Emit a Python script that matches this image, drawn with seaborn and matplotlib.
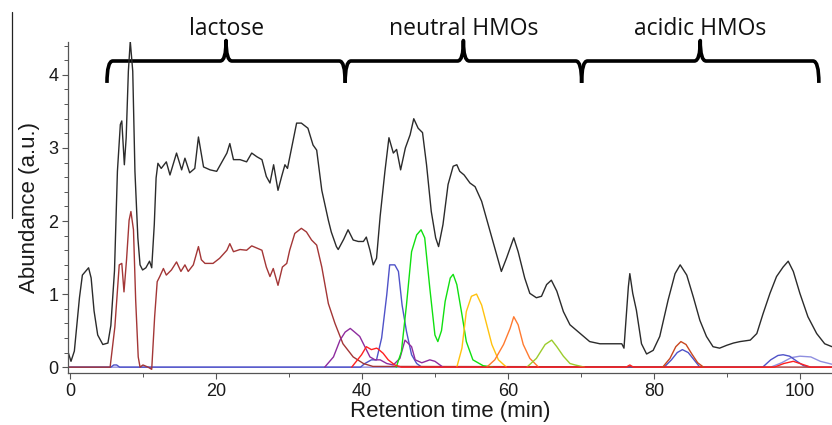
import numpy as np
import pandas as pd
import matplotlib
matplotlib.use("Agg")
import matplotlib.pyplot as plt
import seaborn as sns
from matplotlib.path import Path
from matplotlib.patches import PathPatch
from matplotlib.lines import Line2D
from matplotlib.ticker import MultipleLocator

# ---------------- data ----------------
total_t = [-0.3, 0.14, 0.6, 1.3, 1.7, 2.2, 2.55, 2.9, 3.3, 3.8, 4.5, 5.2, 5.6, 6.1, 6.5, 6.9, 7.1,
           7.45, 7.7, 8.0, 8.26, 8.6, 8.9, 9.3, 9.6, 9.95, 10.4, 10.9, 11.2, 11.55, 11.8, 12.05,
           12.5, 13.2, 13.7, 14.6, 15.3, 15.75, 16.4, 17.1, 17.6, 18.3, 19.2, 20.1, 21.0, 21.5,
           21.9, 22.4, 23.3, 24.2, 24.9, 25.6, 26.3, 26.9, 27.4, 27.9, 28.5, 29.0, 29.45, 29.8,
           30.4, 31.05, 31.7, 32.6, 33.3, 33.8, 34.5, 35.4, 35.8, 36.5, 36.75, 37.5, 38.1, 38.8,
           39.5, 40.2, 40.6, 41.1, 41.55, 42.0, 42.5, 43.15, 43.7, 44.3, 44.75, 45.3, 45.95, 46.6,
           47.1, 47.7, 48.3, 48.85, 49.5, 50.1, 50.5, 51.1, 51.8, 52.5, 53.0, 53.4, 54.0, 54.8,
           55.5, 56.4, 57.3, 58.2, 59.1, 59.8, 60.8, 61.4, 62.3, 63.0, 63.9, 64.6, 65.3, 65.95,
           66.7, 67.6, 68.5, 69.9, 71.2, 72.6, 75.6, 75.9, 76.5, 76.7, 77.1, 77.6, 78.3, 79.0,
           79.9, 80.8, 81.95, 82.9, 83.6, 84.5, 85.4, 86.3, 87.2, 88.1, 89.0, 90.0, 90.9, 91.8,
           93.2, 94.1, 94.95, 95.9, 96.8, 97.7, 98.4, 99.1, 100.0, 101.1, 102.3, 103.4, 104.4]
total_y = [0.22, 0.08, 0.22, 0.95, 1.26, 1.32, 1.36, 1.22, 0.77, 0.44, 0.31, 0.33, 0.57, 1.32, 2.68,
           3.32, 3.37, 2.77, 3.14, 4.05, 4.46, 4.05, 2.68, 1.77, 1.40, 1.33, 1.36, 1.45, 1.36, 1.95,
           2.59, 2.79, 2.72, 2.81, 2.63, 2.93, 2.70, 2.86, 2.66, 2.72, 3.15, 2.74, 2.70, 2.68, 2.84,
           2.93, 3.06, 2.84, 2.84, 2.81, 2.93, 2.88, 2.84, 2.61, 2.52, 2.77, 2.42, 2.61, 2.77, 2.72,
           3.02, 3.34, 3.34, 3.27, 3.04, 2.97, 2.42, 2.01, 1.85, 1.65, 1.61, 1.75, 1.88, 1.74,
           1.72, 1.72, 1.78, 1.60, 1.40, 1.49, 2.07, 2.68, 3.14, 2.93, 2.98, 2.70, 3.00, 3.18,
           3.40, 3.27, 3.21, 2.77, 2.13, 1.77, 1.65, 1.95, 2.50, 2.75, 2.77, 2.68, 2.63, 2.52,
           2.47, 2.27, 1.95, 1.63, 1.31, 1.49, 1.77, 1.58, 1.22, 1.01, 0.95, 0.97, 1.13, 1.19,
           1.04, 0.76, 0.58, 0.46, 0.35, 0.32, 0.32, 0.26, 1.10, 1.28, 1.01, 0.78, 0.32, 0.18,
           0.23, 0.42, 0.92, 1.28, 1.40, 1.26, 0.96, 0.64, 0.42, 0.28, 0.26, 0.30, 0.33, 0.35,
           0.37, 0.46, 0.73, 1.01, 1.24, 1.37, 1.45, 1.31, 1.01, 0.69, 0.46, 0.32, 0.28]

lactose_t = [-0.3, 5.5, 6.15, 6.75, 7.1, 7.4, 7.75, 8.1, 8.35, 8.7, 9.0, 9.35, 9.6, 10.0, 10.7,
             11.2, 11.6, 11.95, 12.3, 12.8, 13.2, 13.9, 14.6, 15.2, 15.75, 16.2, 16.9, 17.6,
             18.0, 18.5, 19.6, 20.5, 21.5, 21.9, 22.4, 23.3, 24.2, 24.9, 25.6, 26.3, 26.9, 27.4,
             27.85, 28.5, 29.1, 29.7, 30.1, 30.8, 31.7, 32.4, 33.1, 33.8, 34.5, 35.4, 36.3, 37.4,
             38.8, 40.2, 41.5, 104.4]
lactose_y = [0.0, 0.0, 0.55, 1.40, 1.42, 1.03, 1.47, 2.01, 2.13, 1.88, 0.92, 0.14, 0.0, 0.03, 0.0,
             -0.03, 0.69, 1.17, 1.24, 1.35, 1.26, 1.33, 1.44, 1.31, 1.40, 1.31, 1.40, 1.65,
             1.47, 1.42, 1.42, 1.49, 1.60, 1.69, 1.58, 1.61, 1.60, 1.66, 1.63, 1.60, 1.37, 1.24,
             1.35, 1.12, 1.37, 1.42, 1.60, 1.83, 1.90, 1.85, 1.74, 1.67, 1.37, 0.87, 0.60, 0.32,
             0.14, 0.05, 0.01, 0.0]

lightblue_t = [-0.3, 96.0, 97.5, 98.8, 100.0, 101.5, 102.8, 104.4]
lightblue_y = [0.0, 0.0, 0.06, 0.13, 0.15, 0.14, 0.08, 0.04]

blue_t = [-0.3, 5.6, 6.0, 6.4, 6.8, 39.8, 40.4, 41.3, 42.0, 42.7, 43.4, 43.8, 44.5, 45.0, 45.5,
          46.1, 46.8, 47.5, 48.2, 81.4, 82.4, 83.2, 83.9, 84.7, 85.5, 86.3, 94.9, 96.0, 97.0,
          97.7, 98.6, 99.6, 100.5, 101.5, 104.4]
blue_y = [0.0, 0.0, 0.03, 0.03, 0.0, 0.0, 0.05, 0.10, 0.10, 0.40, 0.99, 1.40, 1.40, 1.31, 0.85,
          0.49, 0.17, 0.05, 0.0, 0.0, 0.10, 0.20, 0.24, 0.20, 0.10, 0.0, 0.0, 0.10, 0.16,
          0.17, 0.15, 0.08, 0.02, 0.0, 0.0]

purple_t = [34.9, 36.1, 37.0, 37.7, 38.4, 39.0, 39.7, 40.4, 41.1, 41.8, 42.5, 43.4, 44.3, 45.2,
            45.9, 46.8, 47.3, 48.2, 49.3, 50.0, 51.1]
purple_y = [0.0, 0.14, 0.37, 0.48, 0.53, 0.48, 0.42, 0.28, 0.14, 0.10, 0.10, 0.05, 0.03, 0.12,
            0.37, 0.28, 0.10, 0.06, 0.10, 0.08, 0.0]

red_t = [38.6, 39.95, 40.6, 41.3, 42.0, 42.2, 42.9, 43.6, 44.5, 45.4, 76.2, 76.7, 77.2, 96.5,
         97.8, 99.1, 100.3, 101.5, 104.4]
red_y = [0.0, 0.17, 0.28, 0.24, 0.26, 0.25, 0.19, 0.10, 0.03, 0.0, 0.0, 0.03, 0.0, 0.0,
         0.05, 0.08, 0.04, 0.0, 0.0]

green_t = [44.7, 45.4, 46.1, 46.8, 47.5, 48.1, 48.6, 49.3, 50.0, 50.4, 50.9, 51.4, 52.1, 52.5,
           53.0, 53.7, 54.3, 55.2, 56.6, 57.9]
green_y = [0.0, 0.21, 0.85, 1.58, 1.81, 1.88, 1.77, 1.08, 0.44, 0.35, 0.50, 0.90, 1.22, 1.27,
           1.13, 0.72, 0.35, 0.10, 0.02, 0.0]

gold_t = [53.0, 53.7, 54.3, 55.0, 55.7, 56.4, 57.1, 57.8, 58.7, 59.8]
gold_y = [0.0, 0.26, 0.76, 0.97, 1.00, 0.85, 0.58, 0.31, 0.10, 0.0]

orange_t = [57.1, 58.2, 59.4, 60.3, 60.8, 61.4, 62.1, 63.0, 64.2]
orange_y = [0.0, 0.10, 0.31, 0.53, 0.69, 0.58, 0.31, 0.12, 0.0]

olive_t = [62.6, 63.9, 65.1, 66.0, 66.7, 67.6, 68.5, 69.2, 70.5]
olive_y = [0.0, 0.12, 0.31, 0.37, 0.28, 0.15, 0.05, 0.03, 0.0]

sienna_t = [81.2, 82.2, 83.0, 83.7, 84.4, 85.2, 86.0, 86.8]
sienna_y = [0.0, 0.12, 0.28, 0.35, 0.31, 0.18, 0.06, 0.0]

traces = [
    ("total", total_t, total_y, "#2b2b2b"),
    ("lightblue", lightblue_t, lightblue_y, "#8f8fe0"),
    ("blue", blue_t, blue_y, "#4f52c8"),
    ("lactose", lactose_t, lactose_y, "#a33636"),
    ("purple", purple_t, purple_y, "#8e2c9e"),
    ("green", green_t, green_y, "#10e010"),
    ("gold", gold_t, gold_y, "#ffc20e"),
    ("orange", orange_t, orange_y, "#ff7a30"),
    ("olive", olive_t, olive_y, "#9ccc2c"),
    ("red", red_t, red_y, "#ff2020"),
    ("sienna", sienna_t, sienna_y, "#c8461e"),
]

region_bounds = [5.07, 37.7, 70.1, 102.6]
region_labels = ["lactose", "neutral HMOs", "acidic HMOs"]

x_ticks = [0, 20, 40, 60, 80, 100]
y_ticks = [0, 1, 2, 3, 4]

# ---------------- figure ----------------
sns.set_theme(style="ticks")
plt.rcParams["font.family"] = ["Liberation Sans", "DejaVu Sans"]

fig = plt.figure(figsize=(8.32, 4.25), dpi=100)
ax = fig.add_axes([68 / 832, 1 - 373 / 425, 1 - 68 / 832, (373 - 42) / 425])

for name, t, y, c in traces:
    df = pd.DataFrame({"t": t, "y": y})
    sns.lineplot(data=df, x="t", y="y", ax=ax, color=c, linewidth=1.0,
                 sort=False, estimator=None)

ax.set_xlim(-0.27, 104.4)
ax.set_ylim(-0.08, 4.45)
ax.set_xticks(x_ticks)
ax.set_yticks(y_ticks)
ax.xaxis.set_minor_locator(MultipleLocator(10))
ax.yaxis.set_minor_locator(MultipleLocator(0.2))
ax.tick_params(axis="both", which="major", labelsize=13, length=4, width=0.8,
               color="#555555", labelcolor="#1a1a1a", pad=3)
ax.tick_params(axis="both", which="minor", length=3, width=0.7, color="#555555")
for side in ["top", "right"]:
    ax.spines[side].set_visible(False)
for side in ["left", "bottom"]:
    ax.spines[side].set_color("#555555")
    ax.spines[side].set_linewidth(0.9)

ax.set_xlabel("Retention time (min)", fontsize=16, color="#1a1a1a", labelpad=1)
ax.set_ylabel("Abundance (a.u.)", fontsize=16, color="#1a1a1a", labelpad=6)

# ---------------- region braces ----------------
h, d, u, r, s = 4.19, 0.30, 0.28, 0.8, 0.8
for a, b, lab in zip(region_bounds[:-1], region_bounds[1:], region_labels):
    m = (a + b) / 2
    verts = [(a, h - d), (a, h), (a + r, h), (m - s, h), (m, h), (m, h + u),
             (m, h), (m + s, h), (b - r, h), (b, h), (b, h - d)]
    codes = [Path.MOVETO, Path.CURVE3, Path.CURVE3, Path.LINETO, Path.CURVE3, Path.CURVE3,
             Path.CURVE3, Path.CURVE3, Path.LINETO, Path.CURVE3, Path.CURVE3]
    ax.add_patch(PathPatch(Path(verts, codes), fill=False, edgecolor="black",
                           linewidth=2.6, clip_on=False, capstyle="butt", joinstyle="round"))
    ax.text(m, 4.55, lab, ha="center", va="baseline", fontsize=16.5,
            family=["Open Sans", "DejaVu Sans"], color="#111111", clip_on=False)

# thin stray rule at the left edge of the original figure
fig.add_artist(Line2D([12 / 832, 12 / 832], [1 - 12 / 425, 1 - 218 / 425],
                      color="#222222", linewidth=0.9))

fig.savefig("out.png", dpi=100)
